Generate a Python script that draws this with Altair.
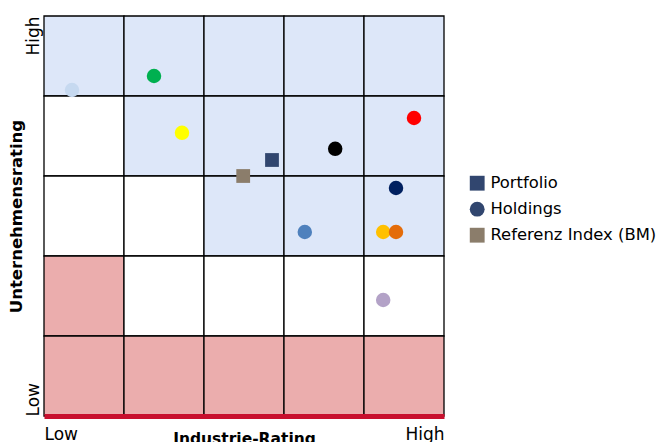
import altair as alt
import pandas as pd

# ---- data ----
zone_rows_top_to_bottom = [
    ["B", "B", "B", "B", "B"],
    ["W", "B", "B", "B", "B"],
    ["W", "W", "B", "B", "B"],
    ["P", "W", "W", "W", "W"],
    ["P", "P", "P", "P", "P"],
]
zone_colors = {"B": "#dde7f9", "W": "#ffffff", "P": "#ebadad"}

holding_x = [0.35, 1.375, 1.725, 3.64, 4.625, 4.4, 3.26, 4.24, 4.4, 4.24]
holding_y = [4.075, 4.25, 3.54, 3.34, 3.725, 2.85, 2.3, 2.3, 2.3, 1.45]
holding_colors = ["#c6d9f0", "#00b050", "#ffff00", "#000000", "#ff0000",
                  "#002060", "#4f81bd", "#ffc000", "#e46c0a", "#b3a2c7"]

portfolio_xy = (2.85, 3.2)
benchmark_xy = (2.49, 3.0)

legend_names = ["Portfolio", "Holdings", "Referenz Index (BM)"]
legend_colors = ["#31466f", "#31466f", "#8b7d6b"]
legend_shapes = ["square", "circle", "square"]

FONT = "DejaVu Sans"

# ---- tables ----
cells = []
for r, row in enumerate(zone_rows_top_to_bottom):
    for c, z in enumerate(row):
        y0 = 4 - r
        cells.append({"x": c, "x2": c + 1, "y": y0, "y2": y0 + 1, "fill": zone_colors[z]})
cells = pd.DataFrame(cells)

hold = pd.DataFrame({"x": holding_x, "y": holding_y, "fill": holding_colors})
squares = pd.DataFrame({
    "x": [benchmark_xy[0], portfolio_xy[0]],
    "y": [benchmark_xy[1], portfolio_xy[1]],
    "fill": [legend_colors[2], legend_colors[0]],
})
leg = pd.DataFrame({"name": legend_names, "x": [2.5] * 3, "y": [2.5] * 3})

xscale = alt.Scale(domain=[0, 5], nice=False, zero=False)
yscale = alt.Scale(domain=[0, 5], nice=False, zero=False)

xaxis = alt.Axis(
    values=[0, 5], labelExpr="datum.value == 0 ? 'Low' : 'High'", labelFlush=True,
    ticks=False, grid=False, domain=True, domainColor="#c8102e", domainWidth=5, zindex=2,
    title="Industrie-Rating", titleFontWeight="bold", titleFontSize=15.5, titleFont=FONT,
    titleColor="#000", labelFont=FONT, labelFontSize=17, labelColor="#000",
    labelPadding=10, titlePadding=-11,
)
yaxis = alt.Axis(
    values=[0, 5], labelExpr="datum.value == 0 ? 'Low' : 'High'", labelAngle=-90,
    labelAlign={"condition": {"test": "datum.value < 1", "value": "left"}, "value": "right"},
    labelBaseline="bottom",
    ticks=False, grid=False, domain=False,
    title="Unternehmensrating", titleFontWeight="bold", titleFontSize=16.5, titleFont=FONT,
    titleColor="#000", labelFont=FONT, labelFontSize=17, labelColor="#000",
    labelPadding=2, titlePadding=0,
)

base_x = alt.X("x:Q", scale=xscale, axis=xaxis)
base_y = alt.Y("y:Q", scale=yscale, axis=yaxis)

# legend carrier drawn first, hidden beneath the opaque grid cells
legend_layer = alt.Chart(leg).mark_point(filled=True, opacity=1).encode(
    x=base_x,
    y=base_y,
    color=alt.Color("name:N", scale=alt.Scale(domain=legend_names, range=legend_colors),
                    legend=alt.Legend(title=None, orient="none", legendX=425, legendY=159,
                                      labelFont=FONT, labelFontSize=16.4, labelColor="#000",
                                      labelLimit=400, symbolOpacity=1, symbolSize=220,
                                      rowPadding=9, labelOffset=5, symbolStrokeWidth=0,
                                      padding=0)),
    shape=alt.Shape("name:N", scale=alt.Scale(domain=legend_names, range=legend_shapes)),
)

grid = alt.Chart(cells).mark_rect(stroke="#000000", strokeWidth=1.3).encode(
    x=alt.X("x:Q", scale=xscale), x2="x2:Q", y=alt.Y("y:Q", scale=yscale), y2="y2:Q",
    fill=alt.Fill("fill:N", scale=None),
)

pts = alt.Chart(hold).mark_circle(size=210, opacity=1).encode(
    x=alt.X("x:Q", scale=xscale), y=alt.Y("y:Q", scale=yscale),
    fill=alt.Fill("fill:N", scale=None),
)

sq = alt.Chart(squares).mark_square(size=190, opacity=1).encode(
    x=alt.X("x:Q", scale=xscale), y=alt.Y("y:Q", scale=yscale),
    fill=alt.Fill("fill:N", scale=None),
)

chart = alt.layer(legend_layer, grid, pts, sq).properties(
    width=400, height=400,
    autosize=alt.AutoSizeParams(type="none"),
    padding={"left": 36, "top": 8, "right": 215, "bottom": 30},
).configure_view(stroke=None)

chart.save("out.html", embed_options={"renderer": "svg", "actions": False})
